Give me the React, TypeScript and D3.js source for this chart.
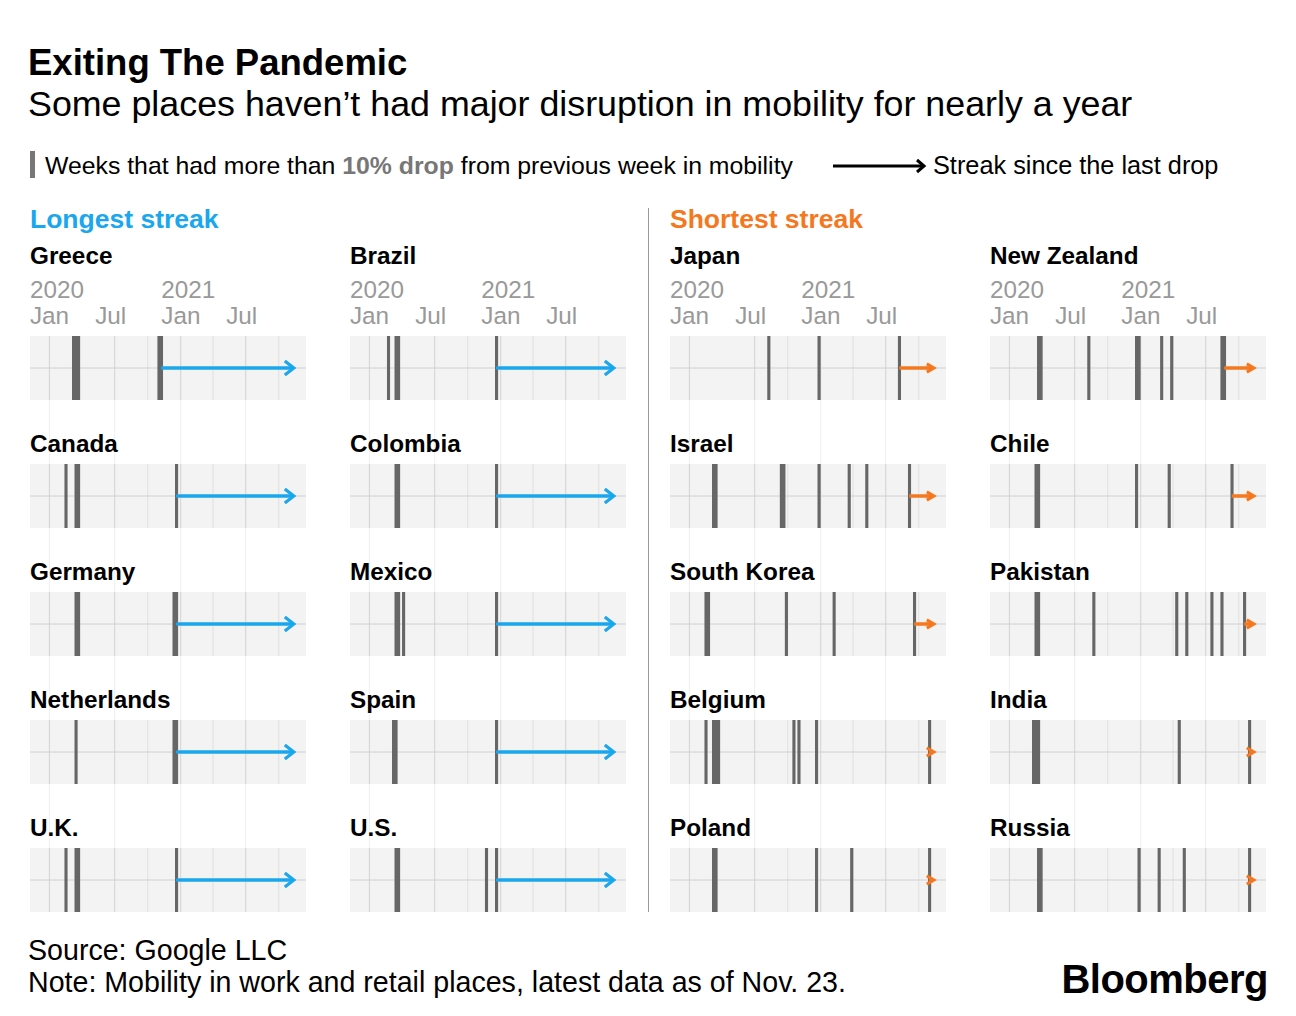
import React from "react";
import * as d3 from "d3";

// ---------- data ----------
const longestNames = ["Greece", "Canada", "Germany", "Netherlands", "U.K.", "Brazil", "Colombia", "Mexico", "Spain", "U.S."];
const shortestNames = ["Japan", "Israel", "South Korea", "Belgium", "Poland", "New Zealand", "Chile", "Pakistan", "India", "Russia"];

// start dates (Wednesdays) of weeks with a >10% drop in mobility
const greece = ["2020-03-04", "2020-03-11", "2020-03-18", "2020-10-28", "2020-11-04"];
const canada = ["2020-02-12", "2020-03-11", "2020-03-18", "2020-12-16"];
const germany = ["2020-03-11", "2020-03-18", "2020-12-09", "2020-12-16"];
const netherlands = ["2020-03-11", "2020-12-09", "2020-12-16"];
const uk = ["2020-02-12", "2020-03-11", "2020-03-18", "2020-12-16"];
const brazil = ["2020-02-19", "2020-03-11", "2020-03-18", "2020-12-16"];
const colombia = ["2020-03-11", "2020-03-18", "2020-12-16"];
const mexico = ["2020-03-11", "2020-03-18", "2020-04-01", "2020-12-16"];
const spain = ["2020-03-04", "2020-03-11", "2020-12-16"];
const us = ["2020-03-11", "2020-03-18", "2020-11-18", "2020-12-16"];
const japan = ["2020-08-05", "2020-12-23", "2021-08-04"];
const israel = ["2020-03-04", "2020-03-11", "2020-09-09", "2020-09-16", "2020-12-23", "2021-03-17", "2021-05-05", "2021-09-01"];
const southKorea = ["2020-02-12", "2020-02-19", "2020-09-23", "2021-02-03", "2021-09-15"];
const belgium = ["2020-02-12", "2020-03-04", "2020-03-11", "2020-03-18", "2020-10-14", "2020-10-28", "2020-12-16", "2021-10-27"];
const poland = ["2020-03-04", "2020-03-11", "2020-12-16", "2021-03-24", "2021-10-27"];
const newZealand = ["2020-03-18", "2020-03-25", "2020-08-05", "2020-12-16", "2020-12-23", "2021-02-24", "2021-03-24", "2021-08-11", "2021-08-18"];
const chile = ["2020-03-11", "2020-03-18", "2020-12-16", "2021-03-17", "2021-09-08"];
const pakistan = ["2020-03-11", "2020-03-18", "2020-08-19", "2021-04-07", "2021-05-05", "2021-07-14", "2021-08-11", "2021-10-13"];
const india = ["2020-03-04", "2020-03-11", "2020-03-18", "2021-04-14", "2021-10-27"];
const russia = ["2020-03-18", "2020-03-25", "2020-12-23", "2021-02-17", "2021-04-28", "2021-10-27"];

const dropsByCountry: Record<string, string[]> = {
  Greece: greece, Canada: canada, Germany: germany, Netherlands: netherlands, "U.K.": uk,
  Brazil: brazil, Colombia: colombia, Mexico: mexico, Spain: spain, "U.S.": us,
  Japan: japan, Israel: israel, "South Korea": southKorea, Belgium: belgium, Poland: poland,
  "New Zealand": newZealand, Chile: chile, Pakistan: pakistan, India: india, Russia: russia,
};

const domainDates = ["2019-11-08", "2021-12-16"];
const latestWeek = "2021-11-12";
const minorTickDates = ["2020-10-01", "2021-04-01", "2021-10-01"];

// ---------- layout ----------
const W = 1296;
const H = 1016;
const panelW = 276;
const panelH = 64;
const colX = [30, 350, 670, 990];
const rowY = [336, 464, 592, 720, 848];
const FONT = "'Liberation Sans', Arial, Helvetica, sans-serif";
const BLUE = "#1aa7ee";
const ORANGE = "#f5781f";
const BAR = "#666666";

const parse = d3.utcParse("%Y-%m-%d");
const x = d3.scaleUtc().domain(domainDates.map((d) => parse(d) as Date)).range([0, panelW]);
const majorTicks = x.ticks(d3.utcMonth.every(6) as any);
const minorTicks = minorTickDates.map((d) => parse(d) as Date);
const endDate = parse(latestWeek) as Date;

function Panel({ name, color, cx, cy, first }: { name: string; color: string; cx: number; cy: number; first: boolean }) {
  const drops = dropsByCountry[name].map((d) => parse(d) as Date);
  const weekEnd = (d: Date) => d3.utcDay.offset(d, 7);
  const last = drops[drops.length - 1];
  const mid = panelH / 2;
  const xs = (x(last) + x(weekEnd(last))) / 2;
  const xt = x(endDate);
  const blue = color === BLUE;
  const hl = blue ? 9 : 7;
  const hh = blue ? 7 : 4.2;
  return (
    <g transform={`translate(${cx},${cy})`}>
      {first && (
        <g fill="#999" fontSize={24.3} fontFamily={FONT}>
          {majorTicks.map((t, i) => (
            <g key={i}>
              {t.getUTCMonth() === 0 && (
                <text x={x(t) - 19.5} y={-38}>{d3.utcFormat("%Y")(t)}</text>
              )}
              <text x={x(t) - 19.5} y={-12}>{d3.utcFormat("%b")(t)}</text>
            </g>
          ))}
        </g>
      )}
      <text x={0} y={first ? -72 : -12} fontSize={24.3} fontWeight={700} fontFamily={FONT} fill="#000">{name}</text>
      <rect x={0} y={0} width={panelW} height={panelH} fill="#f3f3f3" />
      {minorTicks.map((t, i) => (
        <line key={"mi" + i} x1={x(t)} x2={x(t)} y1={0} y2={panelH} stroke="#e0e0e0" strokeWidth={1} />
      ))}
      {majorTicks.map((t, i) => (
        <line key={"ma" + i} x1={x(t)} x2={x(t)} y1={0} y2={panelH} stroke="#d2d2d2" strokeWidth={1} />
      ))}
      <line x1={0} x2={panelW} y1={mid} y2={mid} stroke="#d0d0d0" strokeWidth={1} />
      {drops.map((d, i) => (
        <rect key={"b" + i} x={x(d)} y={0} width={x(weekEnd(d)) - x(d) + 0.6} height={panelH} fill={BAR} />
      ))}
      <line x1={xs} x2={xt - 1.5} y1={mid} y2={mid} stroke={color} strokeWidth={3.5} />
      <path
        d={`M${xt - hl},${mid - hh}L${xt},${mid}L${xt - hl},${mid + hh}`}
        fill="none"
        stroke={color}
        strokeWidth={3.2}
        strokeLinejoin="miter"
      />
    </g>
  );
}

export default function App() {
  const panels: { name: string; color: string; cx: number; cy: number; row: number }[] = [];
  longestNames.forEach((n, i) => panels.push({ name: n, color: BLUE, cx: colX[Math.floor(i / 5)], cy: rowY[i % 5], row: i % 5 }));
  shortestNames.forEach((n, i) => panels.push({ name: n, color: ORANGE, cx: colX[2 + Math.floor(i / 5)], cy: rowY[i % 5], row: i % 5 }));
  const gridTop = rowY[0];
  const gridBottom = rowY[rowY.length - 1] + panelH;

  return (
    <svg width={W} height={H} style={{ position: "absolute", left: 0, top: 0, background: "#fff" }} fontFamily={FONT}>
      <rect x={0} y={0} width={W} height={H} fill="#fff" />
      <text x={28} y={75} fontSize={36.5} fontWeight={700} fill="#000">Exiting The Pandemic</text>
      <text x={28} y={116} fontSize={35.8} fill="#000">Some places haven’t had major disruption in mobility for nearly a year</text>

      {/* legend */}
      <rect x={30} y={151} width={5} height={27} fill="#777" />
      <text x={45} y={174} fontSize={24.8} fill="#000">
        Weeks that had more than <tspan fontWeight={700} fill="#777">10% drop</tspan> from previous week in mobility
      </text>
      <line x1={833} x2={923} y1={166} y2={166} stroke="#000" strokeWidth={3} />
      <path d="M917,160L924,166L917,172" fill="none" stroke="#000" strokeWidth={3} />
      <text x={933} y={174} fontSize={25.3} fill="#000">Streak since the last drop</text>

      <text x={30} y={228} fontSize={26.5} fontWeight={700} fill={BLUE}>Longest streak</text>
      <text x={670} y={228} fontSize={26.5} fontWeight={700} fill={ORANGE}>Shortest streak</text>
      <line x1={648.5} x2={648.5} y1={208} y2={912} stroke="#999" strokeWidth={1} />

      {/* faint column guides */}
      {colX.map((cx, ci) =>
        majorTicks.map((t, i) => (
          <line key={`g${ci}-${i}`} x1={cx + x(t)} x2={cx + x(t)} y1={gridTop} y2={gridBottom} stroke="#efefef" strokeWidth={1} />
        ))
      )}

      {panels.map((p) => (
        <Panel key={p.name} name={p.name} color={p.color} cx={p.cx} cy={p.cy} first={p.row === 0} />
      ))}

      <text x={28} y={960} fontSize={28.6} fill="#000">Source: Google LLC</text>
      <text x={28} y={992} fontSize={28.6} fill="#000">Note: Mobility in work and retail places, latest data as of Nov. 23.</text>
      <text x={1268} y={993} fontSize={40} fontWeight={700} letterSpacing={-0.5} textAnchor="end" fill="#000">Bloomberg</text>
    </svg>
  );
}
